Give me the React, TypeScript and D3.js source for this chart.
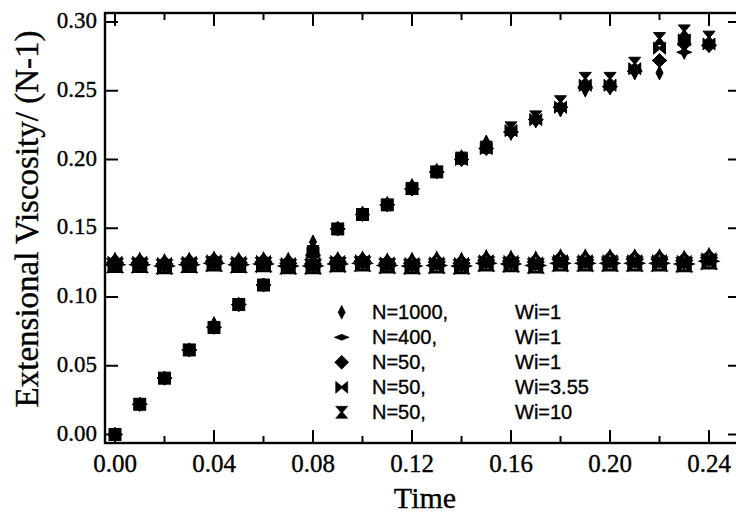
import React from "react";
import * as d3 from "d3";

const time = [0, 0.01, 0.02, 0.03, 0.04, 0.05, 0.06, 0.07, 0.08, 0.09, 0.1, 0.11, 0.12, 0.13, 0.14, 0.15, 0.16, 0.17, 0.18, 0.19, 0.2, 0.21, 0.22, 0.23, 0.24];

// Rising branch (filled symbols)
const riseN1000 = [0.0, 0.022, 0.041, 0.0615, 0.0806, 0.0945, 0.1087, 0.1255, 0.140, 0.150, 0.161, 0.168, 0.181, 0.192, 0.202, 0.2127, 0.219, 0.228, 0.236, 0.2505, 0.252, 0.263, 0.263, 0.278, 0.283];
const riseN400 = [0.0, 0.022, 0.041, 0.0615, 0.078, 0.0945, 0.1087, 0.122, 0.130, 0.1495, 0.160, 0.167, 0.1785, 0.191, 0.200, 0.208, 0.220, 0.229, 0.238, 0.252, 0.253, 0.264, 0.272, 0.278, 0.283];
const riseN50 = [0.0, 0.022, 0.041, 0.0615, 0.078, 0.0945, 0.1087, 0.122, 0.131, 0.1495, 0.160, 0.167, 0.1785, 0.191, 0.200, 0.208, 0.220, 0.229, 0.238, 0.253, 0.253, 0.265, 0.272, 0.284, 0.283];
const riseWi355 = [0.0, 0.022, 0.041, 0.0615, 0.0778, 0.0945, 0.1087, 0.1225, 0.132, 0.1495, 0.160, 0.167, 0.1785, 0.191, 0.200, 0.208, 0.221, 0.229, 0.238, 0.254, 0.254, 0.266, 0.281, 0.287, 0.284];
const riseWi10 = [0.0, 0.022, 0.041, 0.0615, 0.0778, 0.0945, 0.1087, 0.1225, 0.133, 0.1495, 0.160, 0.167, 0.179, 0.191, 0.201, 0.209, 0.223, 0.231, 0.242, 0.259, 0.259, 0.270, 0.288, 0.2935, 0.289];

// Flat branch (open symbols)
const flatN1000 = [0.1255, 0.1255, 0.1245, 0.1255, 0.1265, 0.1255, 0.126, 0.1255, 0.1245, 0.126, 0.1265, 0.125, 0.1255, 0.1265, 0.1255, 0.1275, 0.127, 0.1265, 0.128, 0.128, 0.128, 0.128, 0.128, 0.127, 0.129];
const flatN400 = [0.1235, 0.1235, 0.1225, 0.1235, 0.1245, 0.1235, 0.124, 0.1225, 0.1225, 0.124, 0.1245, 0.123, 0.1225, 0.123, 0.1225, 0.1245, 0.124, 0.123, 0.1245, 0.1245, 0.1245, 0.1245, 0.1245, 0.124, 0.126];
const flatN50 = [0.125, 0.125, 0.124, 0.125, 0.126, 0.125, 0.1255, 0.1245, 0.124, 0.1255, 0.126, 0.1245, 0.1245, 0.1255, 0.1245, 0.1265, 0.126, 0.1255, 0.1275, 0.127, 0.1275, 0.1275, 0.1275, 0.1265, 0.1285];
const flatWi355 = [0.1235, 0.1235, 0.1225, 0.1235, 0.1245, 0.1235, 0.124, 0.1225, 0.1225, 0.124, 0.1245, 0.123, 0.1225, 0.123, 0.1225, 0.1245, 0.124, 0.123, 0.1245, 0.1245, 0.1245, 0.1245, 0.1245, 0.124, 0.126];
const flatWi10 = [0.123, 0.123, 0.122, 0.123, 0.124, 0.123, 0.1235, 0.122, 0.122, 0.1235, 0.124, 0.1225, 0.122, 0.1225, 0.122, 0.124, 0.1235, 0.1225, 0.124, 0.124, 0.124, 0.124, 0.124, 0.1235, 0.1255];

const legendN = ["N=1000,", "N=400,", "N=50,", "N=50,", "N=50,"];
const legendWi = ["Wi=1", "Wi=1", "Wi=1", "Wi=3.55", "Wi=10"];
const symbolKeys = ["thin", "flat", "diamond", "bowtie", "hourglass"];

const xMajor = [0, 0.04, 0.08, 0.12, 0.16, 0.2, 0.24];
const xMinor = [0.02, 0.06, 0.1, 0.14, 0.18, 0.22];
const yMajor = [0, 0.05, 0.1, 0.15, 0.2, 0.25, 0.3];

const SHAPES: Record<string, string> = {
  thin: "M0,-7L3.5,0L0,7L-3.5,0Z",
  flat: "M-7.5,0L0,-3L7.5,0L0,3Z",
  diamond: "M0,-7L7,0L0,7L-7,0Z",
  bowtie: "M-6,-6L0,-1L6,-6L6,6L0,1L-6,6Z",
  hourglass: "M-6,-6L6,-6L1,0L6,6L-6,6L-1,0Z",
};

export default function App() {
  const W = 736, H = 516;
  const x = d3.scaleLinear().domain([0, 0.24]).range([115, 709]);
  const y = d3.scaleLinear().domain([0, 0.3]).range([434.5, 22]);
  const frame = { l: 105, r: 741, t: 13, b: 443 };
  const fmt = d3.format(".2f");
  const serif = "'Liberation Serif', 'Times New Roman', Times, serif";
  const sans = "'Liberation Sans', Arial, Helvetica, sans-serif";
  const ink = { fill: "#000", stroke: "#000", strokeWidth: 0.35 };

  const rise = [riseN1000, riseN400, riseN50, riseWi355, riseWi10];
  const flat = [flatN1000, flatN400, flatN50, flatWi355, flatWi10];

  return (
    <svg width={W} height={H} style={{ position: "absolute", left: 0, top: 0, background: "#fff" }}>
      <rect x={0} y={0} width={W} height={H} fill="#fff" />
      <rect x={frame.l} y={frame.t} width={frame.r - frame.l} height={frame.b - frame.t} fill="none" stroke="#000" strokeWidth={2.4} />
      {xMajor.map((v) => (
        <g key={"xm" + v}>
          <line x1={x(v)} x2={x(v)} y1={frame.b} y2={frame.b - 13} stroke="#000" strokeWidth={2} />
          <line x1={x(v)} x2={x(v)} y1={frame.t} y2={frame.t + 13} stroke="#000" strokeWidth={2} />
          <text x={x(v)} y={472} textAnchor="middle" fontFamily={serif} fontSize={25} {...ink}>{fmt(v)}</text>
        </g>
      ))}
      {xMinor.map((v) => (
        <g key={"xn" + v}>
          <line x1={x(v)} x2={x(v)} y1={frame.b} y2={frame.b - 7} stroke="#000" strokeWidth={2} />
          <line x1={x(v)} x2={x(v)} y1={frame.t} y2={frame.t + 7} stroke="#000" strokeWidth={2} />
        </g>
      ))}
      {yMajor.map((v) => (
        <g key={"ym" + v}>
          <line x1={frame.l} x2={frame.l + 13} y1={y(v)} y2={y(v)} stroke="#000" strokeWidth={2} />
          <line x1={frame.r} x2={frame.r - 13} y1={y(v)} y2={y(v)} stroke="#000" strokeWidth={2} />
          <text x={97} y={y(v) + 6} textAnchor="end" fontFamily={serif} fontSize={23} {...ink}>{fmt(v)}</text>
        </g>
      ))}
      <text x={425} y={508} textAnchor="middle" fontFamily={serif} fontSize={30} {...ink}>Time</text>
      <text transform={`translate(38,219) rotate(-90)`} textAnchor="middle" fontFamily={serif} fontSize={33} {...ink}>Extensional Viscosity/ (N-1)</text>

      {flat.map((vals, si) => (
        <g key={"f" + si}>
          {vals.map((v, i) => (
            <path key={i} d={SHAPES[symbolKeys[si]]} transform={`translate(${x(time[i])},${y(v)})`} fill="none" stroke="#000" strokeWidth={3} />
          ))}
        </g>
      ))}
      {rise.map((vals, si) => (
        <g key={"r" + si}>
          {vals.map((v, i) => (
            <path key={i} d={SHAPES[symbolKeys[si]]} transform={`translate(${x(time[i])},${y(v)})`} fill="#000" stroke="#000" strokeWidth={1} />
          ))}
        </g>
      ))}

      {legendN.map((n, i) => {
        const cy = 312.3 + i * 25;
        return (
          <g key={"lg" + i}>
            <path d={SHAPES[symbolKeys[i]]} transform={`translate(341.7,${cy})`} fill="#000" stroke="#000" strokeWidth={0.6} />
            <text x={372} y={cy + 6.5} fontFamily={sans} fontSize={20} {...ink}>{n}</text>
            <text x={515} y={cy + 6.5} fontFamily={sans} fontSize={20} {...ink}>{legendWi[i]}</text>
          </g>
        );
      })}
    </svg>
  );
}
